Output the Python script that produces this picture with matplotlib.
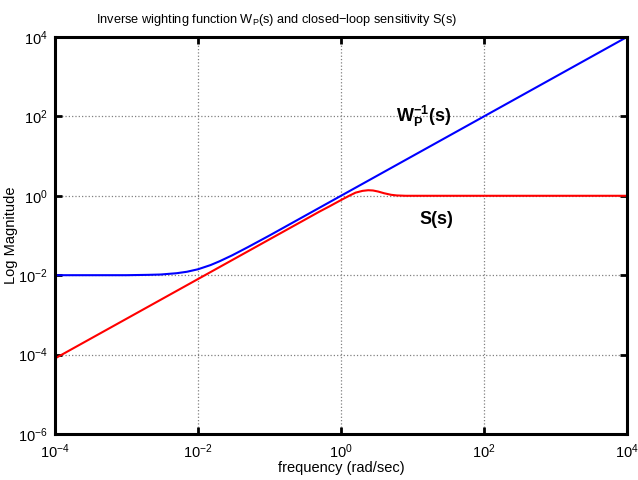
import numpy as np
import matplotlib
matplotlib.use('Agg')
import matplotlib.pyplot as plt
from matplotlib.ticker import LogLocator, NullLocator

plt.rcParams['font.family'] = ['Liberation Sans', 'DejaVu Sans']
plt.rcParams['mathtext.fontset'] = 'custom'
plt.rcParams['mathtext.rm'] = 'Liberation Sans'
plt.rcParams['mathtext.it'] = 'Liberation Sans'
plt.rcParams['mathtext.bf'] = 'Liberation Sans:bold'

# values
w_blue = [1e-4, 1e-3, 2e-3, 3e-3, 5e-3, 7e-3, 1e-2, 1.5e-2, 2e-2, 3e-2, 5e-2, 1e-1, 1e0, 1e1, 1e2, 1e3, 1e4]
wp_inv = [0.01, 0.01, 0.0102, 0.0104, 0.0112, 0.0122, 0.0141, 0.018, 0.0224, 0.0316, 0.051, 0.1, 1.0, 10.0, 100.0, 1000.0, 10000.0]

w_red = [1e-4, 1e-3, 1e-2, 1e-1, 0.3, 0.5, 0.7, 1.0, 1.3, 1.6, 2.0, 2.4, 2.8, 3.3, 4.0, 5.0, 6.0, 8.0, 10.0, 1e2, 1e3, 1e4]
sens = [8e-5, 8e-4, 8e-3, 0.08, 0.24, 0.4, 0.55, 0.78, 1.0, 1.2, 1.33, 1.38, 1.36, 1.28, 1.16, 1.06, 1.02, 1.0, 1.0, 1.0, 1.0, 1.0]

fig = plt.figure(figsize=(6.38, 4.8), dpi=100)
ax = fig.add_axes([0.0862, 0.0958, 0.8966, 0.8272])

ax.loglog(w_blue, wp_inv, color='blue', lw=1.5)
ax.loglog(w_red, sens, color='red', lw=1.5)

ax.set_xlim(1e-4, 1e4)
ax.set_ylim(1e-6, 1e4)
ax.xaxis.set_major_locator(LogLocator(base=100))
ax.yaxis.set_major_locator(LogLocator(base=100))
ax.xaxis.set_minor_locator(NullLocator())
ax.yaxis.set_minor_locator(NullLocator())
ax.grid(True, linestyle=':', color='#808080', lw=0.9)
ax.tick_params(direction='in', length=5, width=2, labelsize=10.5, top=True, right=True,
               labeltop=False, labelright=False)
ax.tick_params(axis='x', pad=6)
ax.tick_params(axis='y', pad=5)
for sp in ax.spines.values():
    sp.set_linewidth(2.2)

ax.set_title(r'Inverse wighting function W$_\mathrm{P}$(s) and closed−loop sensitivity S(s)',
             fontsize=9.2, x=0.388, pad=10)
ax.set_xlabel('frequency (rad/sec)', fontsize=10.5, labelpad=0)
ax.set_ylabel('Log Magnitude', fontsize=10.5, labelpad=0)

ax.text(10**1.15, 10**2.0, r'$\mathbf{W_P^{-1}(s)}$', fontsize=13, fontweight='bold',
        ha='center', va='center')
ax.text(10**1.33, 10**-0.6, 'S(s)', fontsize=13, fontweight='bold',
        ha='center', va='center')

fig.savefig('out.png', dpi=100)
